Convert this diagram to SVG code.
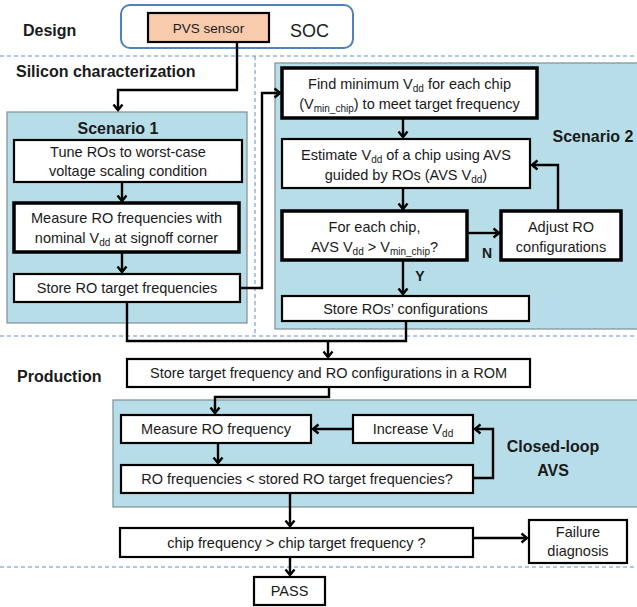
<svg xmlns="http://www.w3.org/2000/svg" width="637" height="607" viewBox="0 0 637 607">
<defs>
<marker id="arr" markerUnits="userSpaceOnUse" markerWidth="12" markerHeight="12" refX="7" refY="6" orient="auto">
<path d="M1.5,1.5 L7,6 L1.5,10.5" fill="none" stroke="#000" stroke-width="2.4" stroke-linejoin="miter"/>
</marker>
<style>
text{font-family:"Liberation Sans",Arial,sans-serif;fill:#1a1a1a;}
.t{font-size:14.5px;text-anchor:middle;}
.lbl{font-size:16px;font-weight:bold;}
.c{text-anchor:middle;}
.sub{font-size:10px;}
.box{fill:#fff;stroke:#000;stroke-width:2.2;}
.thick{fill:#fff;stroke:#000;stroke-width:3.5;}
.region{fill:#B7DEE8;stroke:#7F8F96;stroke-width:1.2;}
.dash{stroke:#5B8FD0;stroke-width:1;stroke-dasharray:4 3;fill:none;}
.con{fill:none;stroke:#000;stroke-width:2.4;}
</style>
</defs>
<rect width="637" height="607" fill="#fff"/>

<g id="section-lines">
<line class="dash" x1="0" y1="56" x2="637" y2="56"/>
<line class="dash" x1="255" y1="56" x2="255" y2="336"/>
<line class="dash" x1="0" y1="336" x2="637" y2="336"/>
<line class="dash" x1="0" y1="567" x2="637" y2="567"/>
</g>

<g id="labels">
<text class="lbl" x="23" y="36">Design</text>
<text class="lbl" x="16" y="77">Silicon characterization</text>
<text class="lbl" x="17" y="382">Production</text>
</g>

<g id="soc">
<rect x="121" y="5" width="232" height="43" rx="9" fill="#fff" stroke="#4F81BD" stroke-width="2"/>
<text x="290" y="37" style="font-size:18px">SOC</text>
</g>
<g id="pvs-sensor">
<rect x="148" y="13" width="121" height="29" fill="#F8CBAD" stroke="#000" stroke-width="2.2"/>
<text class="t" x="208.5" y="33" style="font-size:13.5px">PVS sensor</text>
</g>

<g id="scenario1">
<rect class="region" x="7" y="112" width="240" height="211"/>
<text class="lbl c" x="118" y="134">Scenario 1</text>
</g>
<g id="scenario2">
<rect class="region" x="275" y="63" width="366" height="266"/>
<text class="lbl c" x="593" y="142">Scenario 2</text>
</g>
<g id="closed-loop">
<rect class="region" x="113" y="400" width="530" height="107"/>
<text class="lbl c" x="553" y="452">Closed-loop</text>
<text class="lbl c" x="553" y="476">AVS</text>
</g>

<g id="tune-ros">
<rect class="box" x="14" y="140" width="228" height="42"/>
<text class="t" x="128" y="157">Tune ROs to worst-case</text>
<text class="t" x="128" y="176">voltage scaling condition</text>
</g>
<g id="measure-ro-freqs">
<rect class="thick" x="14" y="203" width="225" height="49"/>
<text class="t" x="126.5" y="223">Measure RO frequencies with</text>
<text class="t" x="126.5" y="243">nominal V<tspan class="sub" dy="3">dd</tspan><tspan dy="-3"> at signoff corner</tspan></text>
</g>
<g id="store-ro-target">
<rect class="box" x="14" y="274" width="226" height="28"/>
<text class="t" x="127" y="293">Store RO target frequencies</text>
</g>

<g id="find-min-vdd">
<rect class="thick" x="282" y="68" width="255" height="50"/>
<text class="t" x="409.5" y="89">Find minimum V<tspan class="sub" dy="3">dd</tspan><tspan dy="-3"> for each chip</tspan></text>
<text class="t" x="409.5" y="109">(V<tspan class="sub" dy="3">min_chip</tspan><tspan dy="-3">) to meet target frequency</tspan></text>
</g>
<g id="estimate-vdd">
<rect class="box" x="282" y="139" width="248" height="49"/>
<text class="t" x="406" y="160">Estimate V<tspan class="sub" dy="3">dd</tspan><tspan dy="-3"> of a chip using AVS</tspan></text>
<text class="t" x="406" y="180">guided by ROs (AVS V<tspan class="sub" dy="3">dd</tspan><tspan dy="-3">)</tspan></text>
</g>
<g id="for-each-chip">
<rect class="thick" x="282" y="211" width="185" height="49"/>
<text class="t" x="374.5" y="232">For each chip,</text>
<text class="t" x="374.5" y="252">AVS V<tspan class="sub" dy="3">dd</tspan><tspan dy="-3"> &gt; V</tspan><tspan class="sub" dy="3">min_chip</tspan><tspan dy="-3">?</tspan></text>
</g>
<g id="adjust-ro">
<rect class="thick" x="501" y="211" width="120" height="49"/>
<text class="t" x="561" y="232">Adjust RO</text>
<text class="t" x="561" y="252">configurations</text>
</g>
<g id="store-ros-config">
<rect class="box" x="282" y="296" width="247" height="25"/>
<text class="t" x="405.5" y="314">Store ROs’ configurations</text>
</g>

<g id="store-rom">
<rect class="box" x="127" y="359" width="403" height="28"/>
<text class="t" x="328.5" y="378">Store target frequency and RO configurations in a ROM</text>
</g>
<g id="measure-ro-freq">
<rect class="box" x="121" y="415" width="190" height="28"/>
<text class="t" x="216" y="434">Measure RO frequency</text>
</g>
<g id="increase-vdd">
<rect class="box" x="353" y="415" width="120" height="28"/>
<text class="t" x="413" y="434">Increase V<tspan class="sub" dy="3">dd</tspan></text>
</g>
<g id="ro-compare">
<rect class="box" x="121" y="465" width="352" height="28"/>
<text class="t" x="297" y="484">RO frequencies &lt; stored RO target frequencies?</text>
</g>
<g id="chip-compare">
<rect class="box" x="120" y="528" width="353" height="29"/>
<text class="t" x="296.5" y="548">chip frequency &gt; chip target frequency ?</text>
</g>
<g id="failure-diagnosis">
<rect class="box" x="529" y="520" width="98" height="43"/>
<text class="t" x="578" y="537">Failure</text>
<text class="t" x="578" y="556">diagnosis</text>
</g>
<g id="pass">
<rect class="box" x="254" y="577" width="71" height="28"/>
<text class="t" x="289.5" y="596">PASS</text>
</g>

<g id="connectors">
<path class="con" d="M237,42 V90 H118 V110" marker-end="url(#arr)"/>
<path class="con" d="M122,182 V201" marker-end="url(#arr)"/>
<path class="con" d="M122,252 V272" marker-end="url(#arr)"/>
<path class="con" d="M240,288 H262 V93 H280" marker-end="url(#arr)"/>
<path class="con" d="M403,118 V137" marker-end="url(#arr)"/>
<path class="con" d="M403,188 V209" marker-end="url(#arr)"/>
<path class="con" d="M467,233 H499" marker-end="url(#arr)"/>
<path class="con" d="M558,211 V165 H532" marker-end="url(#arr)"/>
<path class="con" d="M403,260 V294" marker-end="url(#arr)"/>
<path class="con" d="M127,302 V341 H406 V321"/>
<path class="con" d="M328,341 V357" marker-end="url(#arr)"/>
<path class="con" d="M329,387 V397 H215 V413" marker-end="url(#arr)"/>
<path class="con" d="M218,443 V463" marker-end="url(#arr)"/>
<path class="con" d="M353,429 H313" marker-end="url(#arr)"/>
<path class="con" d="M473,478 H493 V429 H475" marker-end="url(#arr)"/>
<path class="con" d="M290,493 V526" marker-end="url(#arr)"/>
<path class="con" d="M473,538 H527" marker-end="url(#arr)"/>
<path class="con" d="M290,557 V575" marker-end="url(#arr)"/>
<text class="lbl c" x="487" y="258" style="font-size:14px">N</text>
<text class="lbl c" x="420" y="281" style="font-size:14px">Y</text>
</g>
</svg>
